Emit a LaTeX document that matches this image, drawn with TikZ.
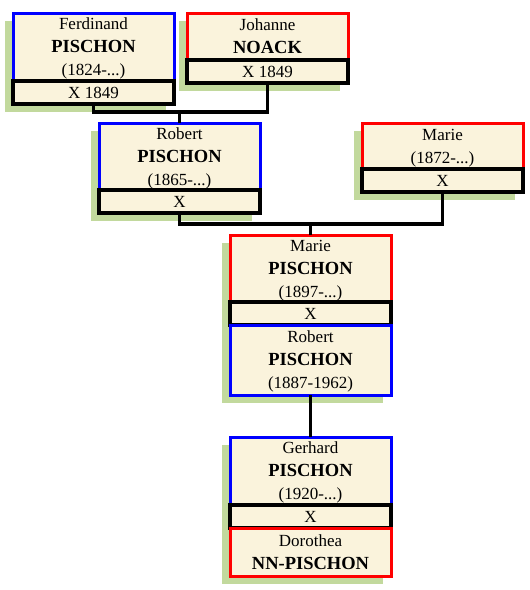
\documentclass[tikz,border=0pt]{standalone}
\usepackage{fontspec}
\setmainfont{Liberation Serif}
\usetikzlibrary{backgrounds}
\definecolor{ftBlue}{HTML}{0000FF}
\definecolor{ftRed}{HTML}{FF0000}
\definecolor{ftCream}{HTML}{FAF3DC}
\definecolor{ftGreen}{HTML}{C2D99D}
\newcommand{\famname}[1]{{\fontsize{18.5}{23}\selectfont\bfseries #1}}
\tikzset{
  ft box/.style={rectangle, fill=ftCream, line width=3pt, minimum width=161, inner sep=0pt, outer sep=0pt, align=center, font={\fontsize{17}{23}\selectfont}, text depth=-5pt},
  ft male/.style={ft box, draw=ftBlue},
  ft female/.style={ft box, draw=ftRed},
  ft union/.style={ft box, draw=black, line width=3.5pt, minimum height=23},
  ft link/.style={draw=black, line width=3.2pt},
  ft shadow/.style={fill=ftGreen},
}
\begin{document}
\begin{tikzpicture}[x=1pt,y=-1pt]
  \useasboundingbox (0,0) rectangle (530,590);
  \node[ft male, minimum height=68, anchor=north west] (ferd) at (13,13) {Ferdinand\\\famname{PISCHON}\\(1824-...)};
  \node[ft union, anchor=north] (ferdx) at (ferd.south) {X 1849};
  \node[ft female, minimum height=47, anchor=north west] (joh) at (187,13) {Johanne\\\famname{NOACK}};
  \node[ft union, anchor=north] (johx) at (joh.south) {X 1849};
  \node[ft male, minimum height=67, anchor=north west] (robert) at (99,123) {Robert\\\famname{PISCHON}\\(1865-...)};
  \node[ft union, anchor=north] (robx) at (robert.south) {X};
  \node[ft female, minimum height=46, anchor=north west] (marie) at (362,123) {Marie\\(1872-...)};
  \node[ft union, anchor=north] (mariex) at (marie.south) {X};
  \node[ft female, minimum height=67, anchor=north west] (mariep) at (230,235) {Marie\\\famname{PISCHON}\\(1897-...)};
  \node[ft union, anchor=north] (coupx) at (mariep.south) {X};
  \node[ft male, minimum height=70, anchor=north] (robertj) at (coupx.south) {Robert\\\famname{PISCHON}\\(1887-1962)};
  \node[ft male, minimum height=68, anchor=north west] (gerhard) at (230,437) {Gerhard\\\famname{PISCHON}\\(1920-...)};
  \node[ft union, anchor=north] (gerx) at (gerhard.south) {X};
  \node[ft female, minimum height=48, anchor=north] (doro) at (gerx.south) {Dorothea\\\famname{NN-PISCHON}};
  \begin{scope}[on background layer]
    \fill[ft shadow] ([shift={(-8,8)}]ferd.north west) rectangle ([shift={(-8,8)}]ferdx.south east);
    \fill[ft shadow] ([shift={(-8,8)}]joh.north west) rectangle ([shift={(-8,8)}]johx.south east);
    \fill[ft shadow] ([shift={(-8,8)}]robert.north west) rectangle ([shift={(-8,8)}]robx.south east);
    \fill[ft shadow] ([shift={(-8,8)}]marie.north west) rectangle ([shift={(-8,8)}]mariex.south east);
    \fill[ft shadow] ([shift={(-8,8)}]mariep.north west) rectangle ([shift={(-8,8)}]robertj.south east);
    \fill[ft shadow] ([shift={(-8,8)}]gerhard.north west) rectangle ([shift={(-8,8)}]doro.south east);
  \end{scope}
  \draw[ft link] (ferdx.south) -- ++(0,8) -| (johx.south);
  \draw[ft link] (robert.north) -- ++(0,-11);
  \draw[ft link] (robx.south) -- ++(0,11) -| (mariex.south);
  \draw[ft link] (mariep.north) -- ++(0,-11);
  \draw[ft link] (robertj.south) -- (gerhard.north);
\end{tikzpicture}
\end{document}
